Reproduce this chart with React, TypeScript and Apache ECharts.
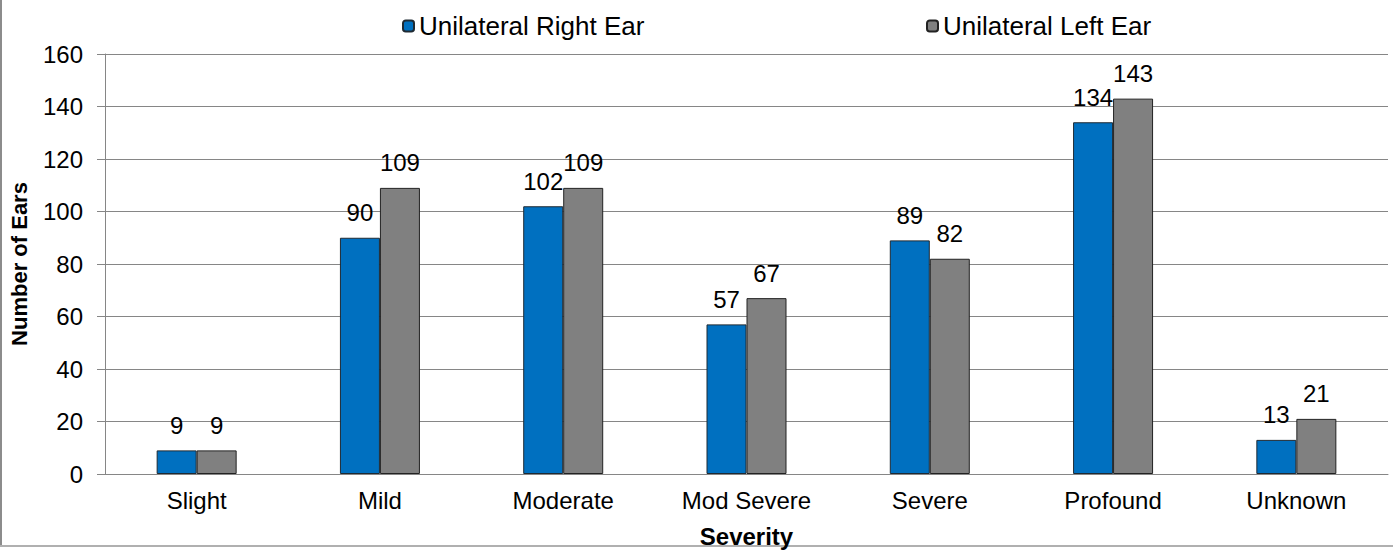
import React, { useEffect, useRef } from "react";
import * as echarts from "echarts";

const categories = ["Slight", "Mild", "Moderate", "Mod Severe", "Severe", "Profound", "Unknown"];
const rightEar = [9, 90, 102, 57, 89, 134, 13];
const leftEar = [9, 109, 109, 67, 82, 143, 21];
const seriesNames = ["Unilateral Right Ear", "Unilateral Left Ear"];

export default function App() {
  const ref = useRef<HTMLDivElement>(null);
  useEffect(() => {
    document.body.style.margin = "0";
    const chart = echarts.init(ref.current!, null, { renderer: "svg" });
    const font = "'Liberation Sans', Arial, sans-serif";
    const labelStyle = {
      show: true,
      position: "top" as const,
      fontSize: 24,
      color: "#000",
      fontFamily: font,
      distance: 13,
    };
    const legendText = { fontSize: 26, color: "#000", fontFamily: font };
    chart.setOption({
      animation: false,
      textStyle: { fontFamily: font },
      legend: [
        {
          top: 8,
          left: 397,
          itemWidth: 11,
          itemHeight: 11,
          textStyle: legendText,
          data: [seriesNames[0]],
        },
        {
          top: 8,
          left: 921,
          itemWidth: 11,
          itemHeight: 11,
          textStyle: legendText,
          data: [seriesNames[1]],
        },
      ],
      grid: { left: 105, right: 5, top: 54, bottom: 76, containLabel: false, outerBoundsMode: "none" },
      xAxis: {
        type: "category",
        data: categories,
        name: "Severity",
        nameLocation: "middle",
        nameGap: 50,
        nameTextStyle: { fontSize: 24, fontWeight: "bold", color: "#000", fontFamily: font },
        axisLine: { lineStyle: { color: "#868686" } },
        axisTick: { show: false },
        axisLabel: { fontSize: 24, color: "#000", margin: 14, fontFamily: font },
      },
      yAxis: {
        type: "value",
        min: 0,
        max: 160,
        interval: 20,
        name: "Number of Ears",
        nameLocation: "middle",
        nameGap: 75,
        nameTextStyle: { fontSize: 22, fontWeight: "bold", color: "#000", fontFamily: font },
        axisLine: { show: true, lineStyle: { color: "#868686" } },
        axisTick: { show: true, inside: false, length: 8, lineStyle: { color: "#868686" } },
        axisLabel: { fontSize: 24, color: "#000", margin: 22, fontFamily: font },
        splitLine: { lineStyle: { color: "#868686" } },
      },
      series: [
        {
          name: seriesNames[0],
          type: "bar",
          data: rightEar,
          barWidth: 40,
          barGap: "0%",
          itemStyle: { color: "#0070C0", borderColor: "#1f2a33", borderWidth: 1 },
          label: labelStyle,
        },
        {
          name: seriesNames[1],
          type: "bar",
          data: leftEar,
          barWidth: 40,
          barGap: "0%",
          itemStyle: { color: "#808080", borderColor: "#222", borderWidth: 1 },
          label: labelStyle,
        },
      ],
    });
    return () => chart.dispose();
  }, []);
  return (
    <div style={{ width: 1393, height: 550, position: "relative", background: "#fff" }}>
      <div
        style={{
          position: "absolute",
          left: 0,
          top: 0,
          width: 2,
          height: 547,
          background: "#8c8c8c",
        }}
      />
      <div
        style={{
          position: "absolute",
          left: 0,
          top: 545,
          width: 1393,
          height: 2,
          background: "#b0b0b0",
        }}
      />
      <div ref={ref} style={{ position: "absolute", left: 0, top: 0, width: 1393, height: 550 }} />
    </div>
  );
}
